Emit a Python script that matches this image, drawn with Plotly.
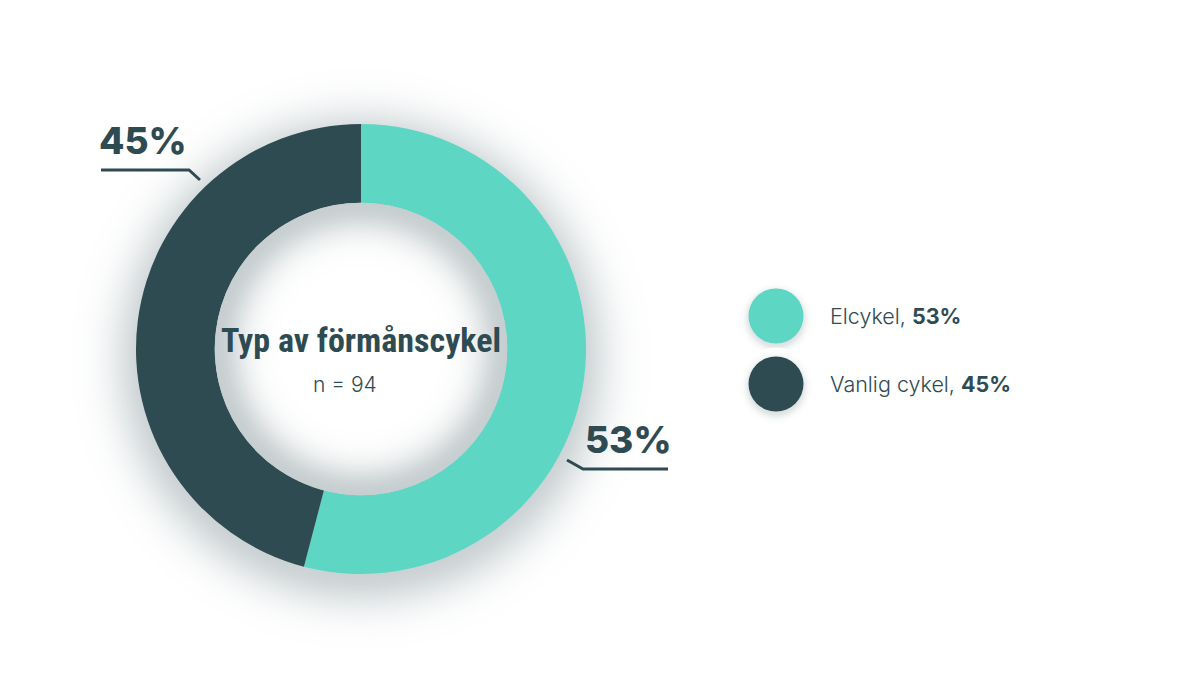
import math
import plotly.graph_objects as go

# data
categories = ["Elcykel", "Vanlig cykel"]
values = [53, 45]
colors = ["#5dd6c4", "#2f4b52"]
title_text = "Typ av förmånscykel"
n_text = "n = 94"

W, H = 1201, 681
OFF = 8  # page body margin, axes work in screen pixels
DARK = "#2f4b52"
DARK_RGB = (47, 75, 82)
cx, cy, R = 361, 349, 225
HOLE = 0.65
r_in = R * HOLE


def tint(a):
    # mix DARK over white with strength a
    r, g, b = (round(255 - a * (255 - c)) for c in DARK_RGB)
    return f"rgb({r},{g},{b})"


def disc(x, y, r, color, layer):
    return dict(type="circle", xref="x", yref="y", layer=layer,
                x0=x - r, x1=x + r, y0=y - r, y1=y + r,
                fillcolor=color, line=dict(width=0))


fig = go.Figure()

# donut
fig.add_trace(go.Pie(
    labels=categories, values=values, hole=HOLE, sort=False,
    direction="clockwise", rotation=0, textinfo="none",
    marker=dict(colors=colors, line=dict(width=0)),
    domain=dict(x=[(cx - R - OFF) / W, (cx + R - OFF) / W],
                y=[1 - (cy + R - OFF) / H, 1 - (cy - R - OFF) / H]),
    showlegend=False,
))

# custom legend circles
leg_x, leg_y0, leg_dy = 776, 316, 68
leg_y = [leg_y0 + i * leg_dy for i in range(len(categories))]
fig.add_trace(go.Scatter(
    x=[leg_x] * len(categories), y=leg_y, mode="markers",
    marker=dict(size=55, color=colors, line=dict(width=0)),
    showlegend=False, hoverinfo="skip",
))

shapes = []

# soft drop shadow behind donut (opaque rings, outermost first)
sh_off = 10
d = 85.0
while d >= -14:
    a = 0.25 * math.exp(-((d + 12) / 37) ** 2)
    shapes.append(disc(cx, cy + sh_off, R + d, tint(a), "below"))
    d -= 1.5

# shadow behind legend circles
for yy in leg_y:
    d = 12.0
    while d >= -2:
        a = 0.16 * math.exp(-((d + 2) / 6) ** 2)
        shapes.append(disc(leg_x, yy + 3, 27.5 + d, tint(a), "below"))
        d -= 1.0

# inner shadow in the hole
t = 0.0
while t <= 70:
    a = 0.27 * math.exp(-(t / 29) ** 2)
    shapes.append(disc(cx, cy, r_in - t, tint(a), "above"))
    t += 1.5

# leader lines
shapes.append(dict(type="path", xref="x", yref="y", layer="above",
                   path="M 101 170 L 189 170 L 200 180",
                   line=dict(color=DARK, width=3)))
shapes.append(dict(type="path", xref="x", yref="y", layer="above",
                   path="M 567 460 L 583 469 L 668 469",
                   line=dict(color=DARK, width=3)))

big = dict(family="Inter, Lato, sans-serif", size=37, color=DARK, weight=800)
annotations = [
    dict(x=143, y=165, text=f"{values[1]}%", font=big, xanchor="center", yanchor="bottom"),
    dict(x=628, y=464, text=f"{values[0]}%", font=big, xanchor="center", yanchor="bottom"),
    dict(x=cx, y=340, text=title_text, xanchor="center", yanchor="middle",
         font=dict(family="Roboto Condensed, Liberation Sans Narrow, DejaVu Sans Condensed",
                   size=34, color=DARK, weight=700)),
    dict(x=345, y=384, text=n_text, xanchor="center", yanchor="middle",
         font=dict(family="Inter, Lato, sans-serif", size=21, color=DARK, weight=300)),
]
for i, (c, v) in enumerate(zip(categories, values)):
    annotations.append(dict(
        x=828, y=leg_y[i], text=f"{c}, <b>{v}%</b>", xanchor="left", yanchor="middle",
        font=dict(family="Inter, Lato, sans-serif", size=21.5, color=DARK, weight=300)))

for a in annotations:
    a.update(xref="x", yref="y", showarrow=False)

fig.update_layout(
    width=W, height=H, margin=dict(l=0, r=0, t=0, b=0),
    paper_bgcolor="white", plot_bgcolor="white",
    xaxis=dict(range=[OFF, W + OFF], visible=False, fixedrange=True),
    yaxis=dict(range=[H + OFF, OFF], visible=False, fixedrange=True),
    shapes=shapes, annotations=annotations,
)

fig.write_html("out.html")
